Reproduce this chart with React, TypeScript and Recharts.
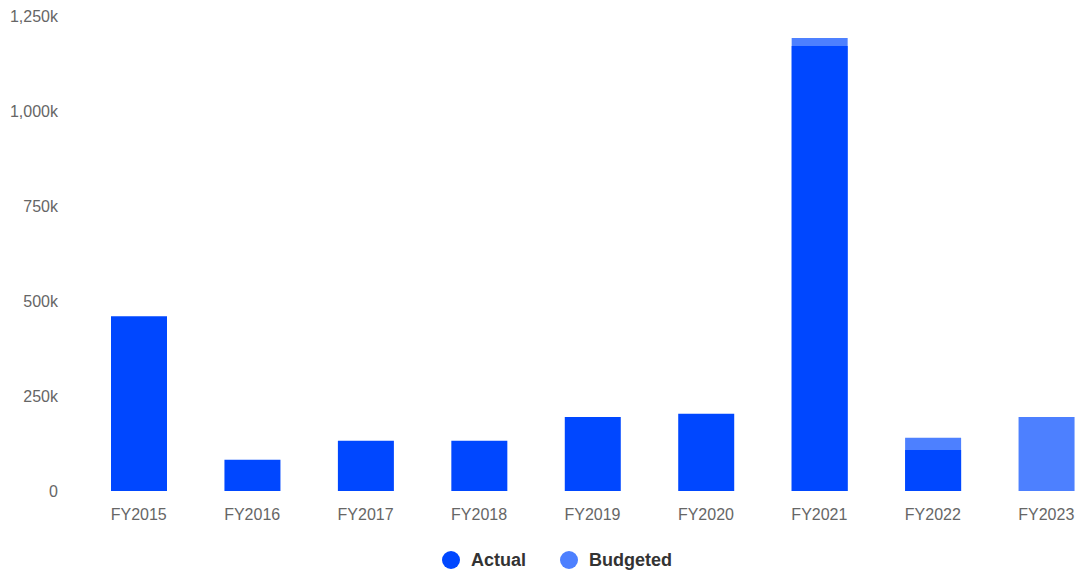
import { BarChart, Bar, XAxis, YAxis, Legend } from "recharts";

const years = ["FY2015", "FY2016", "FY2017", "FY2018", "FY2019", "FY2020", "FY2021", "FY2022", "FY2023"];
const actual = [460, 82, 132, 132, 195, 203, 1171, 108, null];
const budgeted = [null, null, null, null, null, null, 1192, 140, 195];
const yTicks = [0, 250, 500, 750, 1000, 1250];

const series = [
  { key: "actual", name: "Actual", color: "#0047ff" },
  { key: "budgeted", name: "Budgeted", color: "#4d80ff" },
];

const data = years.map((year, i) => ({
  year,
  actual: actual[i],
  budgeted: budgeted[i],
}));

// page has default 8px body margin; drop it so the chart can use the full window
if (typeof document !== "undefined") document.body.style.margin = "0";

const fmtK = (v: number) => (v === 0 ? "0" : `${v.toLocaleString("en-US")}k`);

function LegendContent() {
  return (
    <div style={{ display: "flex", justifyContent: "center", alignItems: "center", height: 30, gap: 34 }}>
      {series.map((s) => (
        <div key={s.key} style={{ display: "flex", alignItems: "center" }}>
          <span
            style={{
              width: 18,
              height: 18,
              borderRadius: "50%",
              background: s.color,
              display: "inline-block",
              marginRight: 11,
            }}
          />
          <span style={{ fontWeight: 700, fontSize: 18, color: "#333" }}>{s.name}</span>
        </div>
      ))}
    </div>
  );
}

export default function App() {
  return (
    <div
      style={{
        width: 1078,
        height: 571,
        overflow: "hidden",
        fontFamily: "'Liberation Sans', Arial, sans-serif",
        position: "relative",
      }}
    >
      <BarChart
        width={1114}
        height={571}
        data={data}
        margin={{ top: 16, right: 11, left: 0, bottom: 20 }}
        barGap={-56}
        barSize={56}
      >
        <XAxis
          dataKey="year"
          axisLine={false}
          tickLine={false}
          tickMargin={12}
          tick={{ fill: "#666", fontSize: 16 }}
          interval={0}
        />
        <YAxis
          width={82}
          domain={[0, 1250]}
          ticks={yTicks}
          tickFormatter={fmtK}
          axisLine={false}
          tickLine={false}
          tickMargin={18}
          tick={{ fill: "#666", fontSize: 16 }}
        />
        <Legend
          content={<LegendContent />}
          wrapperStyle={{ left: 0, width: 1114, top: 545, bottom: "auto" }}
        />
        <Bar dataKey="budgeted" name="Budgeted" fill="#4d80ff" isAnimationActive={false} />
        <Bar dataKey="actual" name="Actual" fill="#0047ff" isAnimationActive={false} />
      </BarChart>
    </div>
  );
}
